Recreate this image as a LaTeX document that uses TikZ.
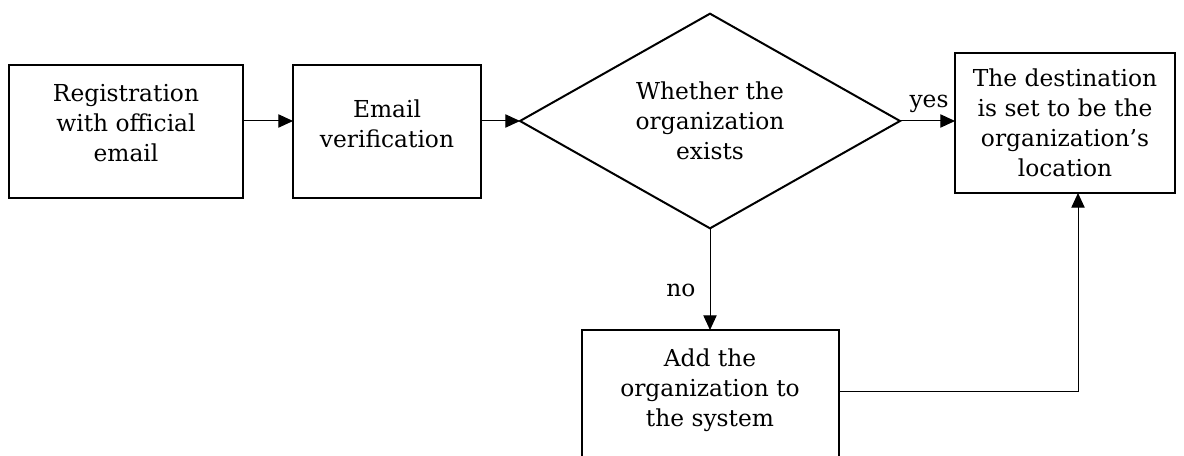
\documentclass[tikz,border=0pt]{standalone}
\usepackage{fontspec}
\setmainfont{DejaVu Serif}
\usetikzlibrary{shapes.geometric,arrows.meta}
\begin{document}
\begin{tikzpicture}[x=0.75pt,y=-0.75pt,
 box/.style={draw, line width=1.5pt, inner sep=0pt, outer sep=0pt},
 txt/.style={align=center, font=\fontsize{17.5}{22.5}\selectfont, inner sep=0pt},
 arr/.style={line width=0.75pt, -{Triangle[length=11pt,width=10pt]}},
 lbl/.style={font=\fontsize{17.5}{22.5}\selectfont, inner sep=0pt}]
\useasboundingbox[fill=white] (0,0) rectangle (1184,456);
% boxes
\node[box, minimum width=175.5pt, minimum height=99.75pt] (b1) at (126,131.5) {};
\node[txt] (t1) at (126,123) {Registration\\with official\\email};
\node[box, minimum width=141pt, minimum height=99.75pt] (b2) at (387,131.5) {};
\node[txt] (t2) at (387,124) {Email\\verification};
\node[box, diamond, aspect=1.77, minimum width=285pt, minimum height=161pt, align=center, font=\fontsize{17.5}{22.5}\selectfont] (d) at (710,121) {Whether the\\organization\\exists};
\node[box, minimum width=165pt, minimum height=105pt, align=center, font=\fontsize{17.5}{22.5}\selectfont] (b3) at (1065,123) {The destination\\is set to be the\\organization’s\\location};
\node[box, minimum width=192.75pt, minimum height=105pt] (b4) at (710,400) {};
\node[txt] (t4) at (710,390) {Add the\\organization to\\the system};
% connectors
\draw[arr] (b1.east |- d.west) -- (b2.west |- d.west);
\draw[arr] (b2.east |- d.west) -- (d.west);
\draw[arr] (d.east) -- (d.east -| b3.west);
\node[lbl] (yes) at (929,104) {yes};
\draw[arr] (d.south) -- (b4.north);
\node[lbl] (no) at (681,290) {no};
\coordinate (k) at (1078,391);
\draw[arr] (b4.east |- k) -- (k) -- (k |- b3.south);
\end{tikzpicture}
\end{document}
